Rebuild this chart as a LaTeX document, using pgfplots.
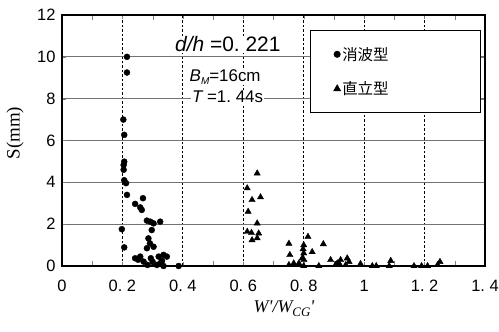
\documentclass[border=0pt]{standalone}
\usepackage{pgfplots}
\pgfplotsset{compat=1.18}
\usepackage{fontspec}
\setmainfont{Liberation Sans}
\newfontfamily\serif{Liberation Serif}
\newfontfamily\cjk{Noto Sans CJK JP}
\begin{document}
\begin{tikzpicture}
\path[use as bounding box] (-62bp,-66bp) rectangle (437bp,266bp);
\begin{axis}[
  at={(0,0)}, anchor=south west,
  scale only axis, width=423bp, height=251bp,
  xmin=0, xmax=1.4, ymin=0, ymax=12,
  xtick={0,0.2,0.4,0.6,0.8,1.0,1.2,1.4},
  xticklabels={0,0.\ 2,0.\ 4,0.\ 6,0.\ 8,1,1.\ 2,1.\ 4},
  ytick={0,2,4,6,8,10,12},
  minor x tick num=1,
  major tick length=4bp,
  minor tick length=5bp,
  tick align=inside,
  xmajorgrids=true, ymajorgrids=true,
  x grid style={black, line width=0.8bp, dash pattern=on 2.5bp off 2bp},
  y grid style={black!55, line width=0.8bp},
  axis line style={black, line width=1.3bp},
  /pgf/number format/assume math mode=true,
  ticklabel style={font=\fontsize{16.5}{18}\selectfont},
  xticklabel style={yshift=-11bp},
  yticklabel style={xshift=-3bp},
  legend style={at={(0.99,0.94)}, anchor=north east, draw=black, line width=1bp,
    inner xsep=24bp, inner ysep=14.5bp, row sep=16bp,
    font=\cjk\fontsize{15.5}{17}\selectfont},
  legend cell align=left,
]
\addplot[only marks, mark=*, mark size=3bp, black] coordinates {
(0.215,10.0) (0.215,9.25) (0.203,7.0) (0.206,6.27) (0.206,4.99) (0.204,4.83)
(0.204,4.6) (0.206,4.1) (0.212,3.96) (0.215,3.4) (0.268,3.24) (0.242,2.97)
(0.259,2.8) (0.264,2.68) (0.281,2.17) (0.292,2.12) (0.303,2.04) (0.325,2.12)
(0.297,1.72) (0.198,1.76) (0.286,1.32) (0.291,1.08) (0.303,0.92) (0.281,0.85)
(0.206,0.89) (0.242,0.37) (0.252,0.30) (0.259,0.45) (0.270,0.21) (0.283,0.05)
(0.294,0.37) (0.300,0.20) (0.320,0.45) (0.336,0.53) (0.347,0.45) (0.325,0.13)
(0.314,0.05) (0.336,0.0) (0.331,0.25) (0.386,0.0)
};
\addlegendentry{\makebox[112bp][l]{消波型}}
\addplot[only marks, mark=triangle*, mark size=3.6bp, black] coordinates {
(0.646,4.43) (0.613,3.72) (0.629,3.16) (0.657,3.29) (0.616,2.6) (0.646,2.04)
(0.613,1.64) (0.627,1.59) (0.651,1.56) (0.629,1.24) (0.646,1.33)
(0.751,1.07) (0.754,0.53) (0.798,0.81) (0.800,1.0) (0.814,1.40) (0.828,0.67)
(0.865,1.05) (0.795,0.37) (0.800,0.61) (0.801,0.29) (0.767,0.13) (0.751,0.05)
(0.784,0.13) (0.800,0.0) (0.850,0.0) (0.889,0.29) (0.911,0.13) (0.917,0.13)
(0.922,0.29) (0.944,0.37) (0.950,0.20) (0.939,0.05) (0.905,0.05) (0.988,0.1)
(1.027,0.0) (1.040,0.0) (1.088,0.25) (1.083,0.0) (1.165,0.0) (1.19,0.0)
(1.21,0.0) (1.243,0.05) (1.251,0.2)
};
\addlegendentry{\makebox[112bp][l]{直立型}}
\node[fill=white, inner sep=1bp, font=\fontsize{21}{23}\selectfont] at (axis cs:0.549,10.6) {\itshape d/h\upshape\ =0.\ 221};
\node[fill=white, inner sep=1bp, font=\fontsize{17}{19}\selectfont] at (axis cs:0.54,9.05) {\itshape B\raisebox{-0.35ex}{\fontsize{10}{11}\selectfont M}\upshape =16cm};
\node[fill=white, inner sep=1bp, font=\fontsize{17}{19}\selectfont] at (axis cs:0.548,8.09) {\itshape T\upshape\ =1.\ 44s};
\end{axis}
\node[rotate=90, font=\serif\fontsize{19}{21}\selectfont] at (-47bp,133bp) {S(mm)};
\node[font=\serif\itshape\fontsize{18}{20}\selectfont] at (222bp,-43bp) {W'/W\raisebox{-0.45ex}{\fontsize{13}{14}\selectfont CG}'};
\end{tikzpicture}
\end{document}
